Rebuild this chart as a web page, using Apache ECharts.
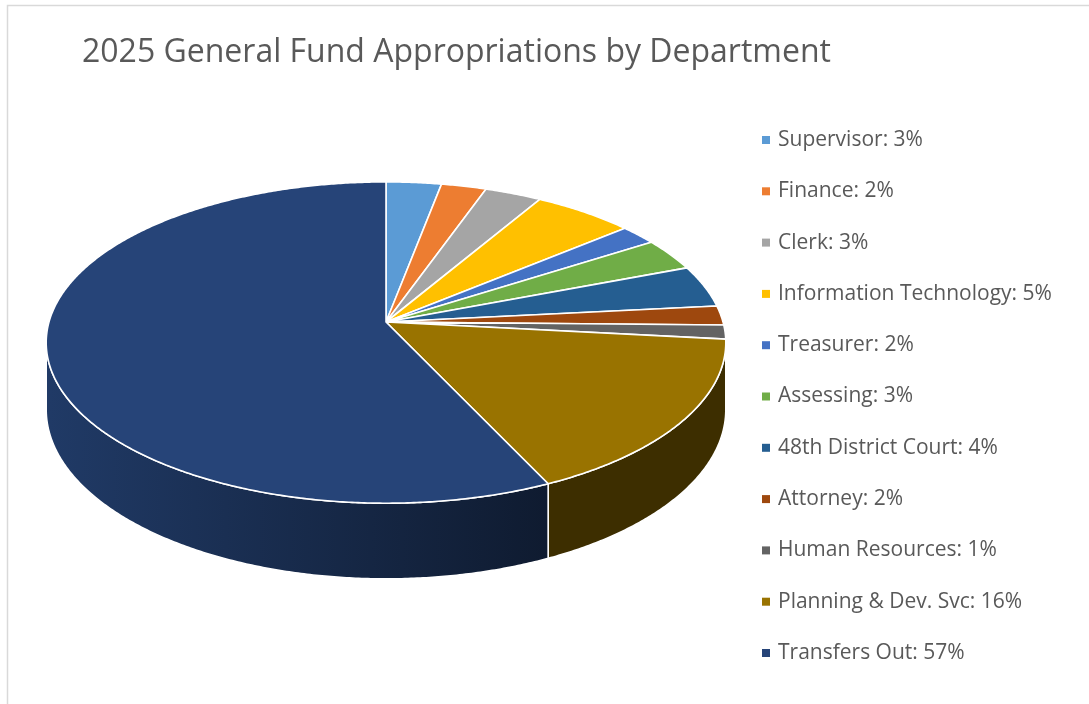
<!DOCTYPE html>
<html>
<head>
<meta charset="utf-8">
<script src="https://cdn.jsdelivr.net/npm/echarts@6/dist/echarts.min.js"></script>
<style>
  html, body { margin: 0; padding: 0; background: #fff; }
  #chart { width: 1089px; height: 704px; }
</style>
</head>
<body>
<div id="chart"></div>
<script>
// 2025 General Fund appropriations, share of total by department (%)
const departments = [
  'Supervisor', 'Finance', 'Clerk', 'Information Technology', 'Treasurer',
  'Assessing', '48th District Court', 'Attorney', 'Human Resources',
  'Planning & Dev. Svc', 'Transfers Out'
];
const shares = [2.97, 2.43, 3.06, 5.46, 2.0, 3.25, 4.19, 1.95, 1.4, 16.3, 57.0];
const colors = [
  '#5B9BD5', '#ED7D31', '#A5A5A5', '#FFC000', '#4472C4',
  '#70AD47', '#255E91', '#9E480E', '#636363', '#997300', '#264478'
];

const total = shares.reduce((a, b) => a + b, 0);

// Perspective view of the pie disc: centre, horizontal/vertical scale,
// perspective factor and thickness of the disc.
const view = { cx: 386, cy: 322, A: 158, B: 337, c: 0.128, G: 66 };

// angle (clockwise from the far side) and depth (0 = top face, 1 = bottom face)
function project(phi, z) {
  const X = Math.sin(phi), Y = Math.cos(phi);
  const k = 1 + view.c * Y;
  return [view.cx + view.B * X / k, view.cy - (view.A * Y - view.G * z) / k];
}

function sliceRange(i) {
  let before = 0;
  for (let j = 0; j < i; j++) before += shares[j];
  const a0 = before / total * Math.PI * 2;
  const a1 = (before + shares[i]) / total * Math.PI * 2;
  return [a0, a1];
}

function arcPoints(a0, a1, z) {
  const pts = [];
  const n = Math.max(2, Math.ceil((a1 - a0) / 0.008));
  for (let s = 0; s <= n; s++) pts.push(project(a0 + (a1 - a0) * s / n, z));
  return pts;
}

function shade(hex, f) {
  const n = parseInt(hex.slice(1), 16);
  const r = Math.round(((n >> 16) & 255) * f);
  const g = Math.round(((n >> 8) & 255) * f);
  const b = Math.round((n & 255) * f);
  return 'rgb(' + r + ',' + g + ',' + b + ')';
}

// the outer wall faces the viewer only on the near side of the disc
const wallFrom = Math.acos(-view.c);
const wallTo = Math.PI * 2 - wallFrom;

function topSeries(i) {
  return {
    type: 'custom',
    name: departments[i],
    coordinateSystem: 'none',
    silent: true,
    z: 3,
    itemStyle: { color: colors[i] },
    data: [[shares[i]]],
    renderItem: function () {
      const r = sliceRange(i);
      const pts = [[view.cx, view.cy]].concat(arcPoints(r[0], r[1], 0));
      return {
        type: 'polygon',
        shape: { points: pts },
        style: { fill: colors[i], stroke: '#ffffff', lineWidth: 1.6, lineJoin: 'round' }
      };
    }
  };
}

function wallSeries(i) {
  return {
    type: 'custom',
    name: departments[i],
    coordinateSystem: 'none',
    silent: true,
    z: 2,
    itemStyle: { color: colors[i] },
    data: [[shares[i]]],
    renderItem: function () {
      const r = sliceRange(i);
      const a0 = Math.max(r[0], wallFrom), a1 = Math.min(r[1], wallTo);
      if (a1 <= a0) return null;
      const top = arcPoints(a0, a1, 0);
      const bottom = arcPoints(a0, a1, 1).reverse();
      const left = view.cx - view.B, right = view.cx + view.B;
      return {
        type: 'polygon',
        shape: { points: top.concat(bottom) },
        style: {
          fill: {
            type: 'linear', global: true,
            x: left, y: 0, x2: right, y2: 0,
            colorStops: [
              { offset: 0, color: shade(colors[i], 0.85) },
              { offset: 0.74, color: shade(colors[i], 0.4) },
              { offset: 1, color: shade(colors[i], 0.4) }
            ]
          },
          stroke: '#ffffff', lineWidth: 1.6, lineJoin: 'round'
        }
      };
    }
  };
}

const series = departments.map((d, i) => topSeries(i))
  .concat(departments.map((d, i) => wallSeries(i)));

const chart = echarts.init(document.getElementById('chart'), null, { renderer: 'canvas' });
chart.setOption({
  animation: false,
  backgroundColor: '#ffffff',
  title: {
    text: '2025 General Fund Appropriations by Department',
    left: 77, top: 32,
    textStyle: { fontFamily: 'Open Sans', fontSize: 32, fontWeight: 'normal', color: '#595959' }
  },
  legend: {
    data: departments,
    orient: 'vertical',
    left: 757, top: 123,
    icon: 'rect', itemWidth: 8, itemHeight: 8,
    itemGap: 27.3,
    selectedMode: false,
    formatter: function (name) {
      const v = shares[departments.indexOf(name)];
      return name + ': ' + Math.round(v / total * 100) + '%';
    },
    textStyle: { fontFamily: 'Open Sans', fontSize: 21, color: '#595959', lineHeight: 24, padding: [0, 0, 0, 3] }
  },
  graphic: [
    { type: 'polyline', silent: true, shape: { points: [[7.5, 704], [7.5, 5.5], [1089, 5.5]] },
      style: { stroke: '#d9d9d9', lineWidth: 1.5, fill: null } }
  ],
  series: series
});
</script>
</body>
</html>
